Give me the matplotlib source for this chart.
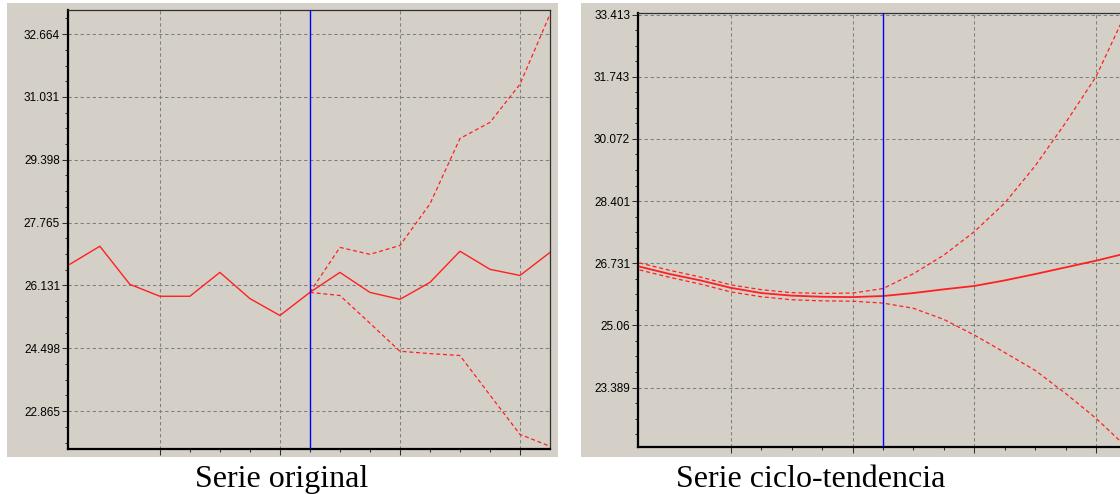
import matplotlib
matplotlib.use("Agg")
import matplotlib.pyplot as plt
from matplotlib.patches import Rectangle
from matplotlib.ticker import FixedLocator, FixedFormatter

# periods (same grid for both panels), forecast starts at period 8
periods = list(range(17))
forecast_start = 8

# left panel: original series and forecast bands
orig = [26.68, 27.15, 26.16, 25.85, 25.85, 26.47, 25.79, 25.35, 25.95,
        26.47, 25.95, 25.77, 26.21, 27.02, 26.55, 26.39, 26.99]
orig_up = [25.95, 27.12, 26.94, 27.17, 28.25, 29.95, 30.37, 31.36, 33.18]
orig_lo = [25.95, 25.87, 25.15, 24.42, 24.36, 24.31, 23.28, 22.26, 21.95]
orig_ticks = [22.865, 24.498, 26.131, 27.765, 29.398, 31.031, 32.664]
orig_labels = ["22.865", "24.498", "26.131", "27.765", "29.398", "31.031", "32.664"]

# right panel: cycle-trend series with band
ct = [26.64, 26.44, 26.27, 26.07, 25.93, 25.86, 25.83, 25.82, 25.85,
      25.93, 26.03, 26.12, 26.27, 26.44, 26.62, 26.80, 27.00]
ct_up = [26.74, 26.54, 26.36, 26.15, 26.02, 25.94, 25.92, 25.93, 26.05,
         26.45, 26.95, 27.58, 28.35, 29.35, 30.51, 31.75, 33.50]
ct_lo = [26.55, 26.35, 26.17, 25.96, 25.83, 25.75, 25.72, 25.71, 25.66,
         25.52, 25.22, 24.80, 24.33, 23.85, 23.23, 22.56, 21.79]
ct_ticks = [23.389, 25.06, 26.731, 28.401, 30.072, 31.743, 33.413]
ct_labels = ["23.389", "25.06", "26.731", "28.401", "30.072", "31.743", "33.413"]

W, H = 1120, 494
fig = plt.figure(figsize=(W / 100, H / 100), dpi=100)
gray = "#d4d0c8"


def box(l, t, r, b):
    return [l / W, 1 - b / H, (r - l) / W, (b - t) / H]


for l, t, r, b in [(7, 3, 558, 457), (581, 3, 1125, 457)]:
    x0, y0, w, h = box(l, t, r, b)
    fig.patches.append(Rectangle((x0, y0), w, h, transform=fig.transFigure,
                                 facecolor=gray, edgecolor="none", zorder=-10))


def setup(ax, ticks, labels, ylim, xlim):
    ax.set_facecolor(gray)
    ax.set_xlim(*xlim)
    ax.set_ylim(*ylim)
    step = ticks[1] - ticks[0]
    minor = []
    v = ticks[0] - step
    while v < ylim[1]:
        for k in range(1, 4):
            m = v + k * step / 4
            if ylim[0] < m < ylim[1]:
                minor.append(m)
        v += step
    ax.yaxis.set_major_locator(FixedLocator(ticks))
    ax.yaxis.set_major_formatter(FixedFormatter(labels))
    ax.yaxis.set_minor_locator(FixedLocator(minor))
    ax.xaxis.set_major_locator(FixedLocator([3, 7, 11, 15]))
    ax.xaxis.set_minor_locator(FixedLocator([4, 5, 6, 8, 9, 10, 12, 13, 14]))
    ax.set_xticklabels([])
    ax.tick_params(which="major", length=4.5, width=0.75, color="#303030",
                   labelsize=8.5, pad=1.2)
    ax.tick_params(which="minor", length=2.2, width=0.75, color="#303030")
    for lab in ax.get_yticklabels():
        lab.set_family("Liberation Sans")
    ax.grid(True, which="major", color="#808080", lw=0.75,
            ls=(0, (3.2, 2.6)), zorder=1)
    ax.spines["left"].set_linewidth(1.6)
    ax.spines["bottom"].set_linewidth(1.6)
    ax.spines["left"].set_color("black")
    ax.spines["bottom"].set_color("black")
    ax.spines["top"].set_linewidth(0.9)
    ax.spines["right"].set_linewidth(0.9)
    ax.spines["top"].set_color("#303030")
    ax.spines["right"].set_color("#303030")


dash = (0, (3.2, 2.2))

ax1 = fig.add_axes(box(68, 10, 550, 449))
setup(ax1, orig_ticks, orig_labels, (21.88, 33.29), (-0.06, 16))
ax1.plot(periods, orig, color="#ff2020", lw=1.0, zorder=3)
ax1.plot(periods[forecast_start:], orig_up, color="#ff2020", lw=0.9, ls=dash, zorder=3)
ax1.plot(periods[forecast_start:], orig_lo, color="#ff2020", lw=0.9, ls=dash, zorder=3)
ax1.axvline(forecast_start, color="#0000ff", lw=1.0, zorder=4)

ax2 = fig.add_axes(box(638, 13, 1126.5, 447))
setup(ax2, ct_ticks, ct_labels, (21.79, 33.46), (-0.05, 16))
ax2.plot(periods, ct, color="#ff2020", lw=1.3, zorder=3)
ax2.plot(periods, ct_up, color="#ff2020", lw=0.9, ls=dash, zorder=3)
ax2.plot(periods, ct_lo, color="#ff2020", lw=0.9, ls=dash, zorder=3)
ax2.axvline(forecast_start, color="#0000ff", lw=1.0, zorder=4)

fig.text(282 / W, 1 - 487 / H, "Serie original", ha="center", va="baseline",
         family="Liberation Serif", fontsize=23)
fig.text(811 / W, 1 - 487 / H, "Serie ciclo-tendencia", ha="center", va="baseline",
         family="Liberation Serif", fontsize=23)

fig.savefig("out.png", dpi=100)
